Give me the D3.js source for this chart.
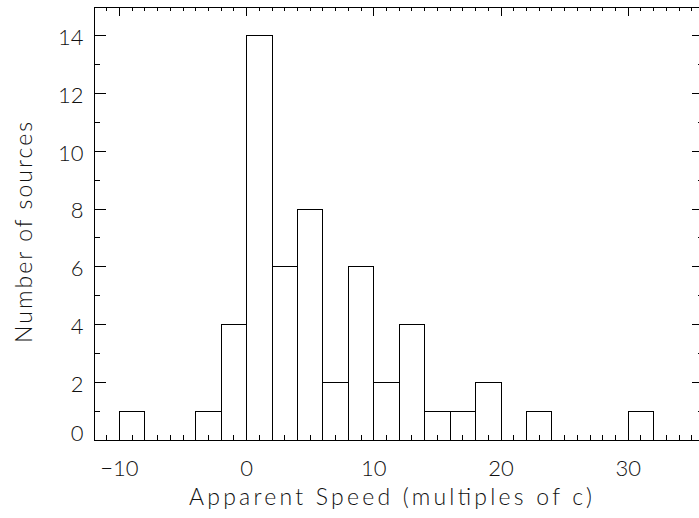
<!DOCTYPE html>
<html>
<head>
<meta charset="utf-8">
<script src="https://cdn.jsdelivr.net/npm/d3@7"></script>
<style>
  html, body { margin: 0; padding: 0; background: #fff; }
  svg { display: block; }
  text { font-family: "Lato", "DejaVu Sans", sans-serif; font-weight: 300; fill: #111; }
</style>
</head>
<body>
<script>
// ---- data ----
const binStarts = [-12,-10,-8,-6,-4,-2,0,2,4,6,8,10,12,14,16,18,20,22,24,26,28,30,32,34];
const counts    = [0,1,0,0,1,4,14,6,8,2,6,2,4,1,1,2,0,1,0,0,0,1,0,0];
const binWidth = 2;
const xMajorTicks = [-10,0,10,20,30];
const yMajorTicks = [0,2,4,6,8,10,12,14];
const xTitle = "Apparent Speed (multiples of c)";
const yTitle = "Number of sources";

const W = 699, H = 518;
const svg = d3.select("body").append("svg").attr("width", W).attr("height", H);

const x = d3.scaleLinear().domain([-12, 36]).range([93.5, 704]);
const y = d3.scaleLinear().domain([0, 15]).range([439.5, 6.5]);

const xMinor = d3.range(-12, 37, 1).filter(v => !xMajorTicks.includes(v));
const yMinor = d3.range(0, 16, 1).filter(v => !yMajorTicks.includes(v));

const stroke = "#000";
const FONT = '"Lato", "DejaVu Sans", sans-serif';

// bars
const bars = binStarts.map((s, i) => ({s, c: counts[i]})).filter(d => d.c > 0);
svg.append("g").selectAll("rect").data(bars).join("rect")
  .attr("x", d => Math.round(x(d.s)) + 0.5)
  .attr("y", d => Math.round(y(d.c)) + 0.5)
  .attr("width", d => Math.round(x(d.s + binWidth)) - Math.round(x(d.s)))
  .attr("height", d => Math.round(y(0)) - Math.round(y(d.c)))
  .attr("fill", "none").attr("stroke", stroke).attr("stroke-width", 1)
  .attr("shape-rendering", "crispEdges");

function styleAxis(g) {
  g.select(".domain").attr("stroke", stroke).attr("shape-rendering", "crispEdges");
  g.selectAll(".tick line").attr("stroke", stroke).attr("shape-rendering", "crispEdges");
}

const xTL = 9, xTLm = 4.5, yTL = 12.2, yTLm = 6;
const y0 = y(0), yTop = y(15), xL = x(-12), xR = x(36);

// bottom axis
const gB = svg.append("g").attr("transform", `translate(0,${y0})`)
  .call(d3.axisBottom(x).tickValues(xMajorTicks).tickSize(-xTL).tickSizeOuter(0)
        .tickFormat(d => d < 0 ? "\u2212" + Math.abs(d) : d));
styleAxis(gB);
gB.selectAll(".tick text").attr("y", 36).attr("dy", 0).attr("font-size", 22)
  .attr("font-family", FONT).attr("fill", "#111");
svg.append("g").attr("transform", `translate(0,${y0})`)
  .call(d3.axisBottom(x).tickValues(xMinor).tickSize(-xTLm).tickSizeOuter(0).tickFormat(""))
  .call(g => { styleAxis(g); g.select(".domain").remove(); });

// top axis
const gT = svg.append("g").attr("transform", `translate(0,${yTop})`)
  .call(d3.axisTop(x).tickValues(xMajorTicks).tickSize(-xTL).tickSizeOuter(0).tickFormat(""));
styleAxis(gT);
svg.append("g").attr("transform", `translate(0,${yTop})`)
  .call(d3.axisTop(x).tickValues(xMinor).tickSize(-xTLm).tickSizeOuter(0).tickFormat(""))
  .call(g => { styleAxis(g); g.select(".domain").remove(); });

// left axis
const gL = svg.append("g").attr("transform", `translate(${xL},0)`)
  .call(d3.axisLeft(y).tickValues(yMajorTicks).tickSize(-yTL).tickSizeOuter(0));
styleAxis(gL);
gL.selectAll(".tick text").attr("x", -10).attr("dy", 0).attr("font-size", 22)
  .attr("font-family", FONT).attr("fill", "#111")
  .attr("y", d => d === 0 ? 1 : 9.3);
svg.append("g").attr("transform", `translate(${xL},0)`)
  .call(d3.axisLeft(y).tickValues(yMinor).tickSize(-yTLm).tickSizeOuter(0).tickFormat(""))
  .call(g => { styleAxis(g); g.select(".domain").remove(); });

// right axis
const gR = svg.append("g").attr("transform", `translate(${xR},0)`)
  .call(d3.axisRight(y).tickValues(yMajorTicks).tickSize(-yTL).tickSizeOuter(0).tickFormat(""));
styleAxis(gR);
svg.append("g").attr("transform", `translate(${xR},0)`)
  .call(d3.axisRight(y).tickValues(yMinor).tickSize(-yTLm).tickSizeOuter(0).tickFormat(""))
  .call(g => { styleAxis(g); g.select(".domain").remove(); });

// titles
svg.append("text").attr("x", 390.5).attr("y", 504.5).attr("text-anchor", "middle")
  .attr("font-size", 23).attr("textLength", 403).attr("lengthAdjust", "spacing")
  .text(xTitle);
svg.append("text").attr("transform", "translate(31.5,232.5) rotate(-90)")
  .attr("text-anchor", "middle").attr("font-size", 23)
  .attr("textLength", 221).attr("lengthAdjust", "spacing")
  .text(yTitle);
</script>
</body>
</html>
